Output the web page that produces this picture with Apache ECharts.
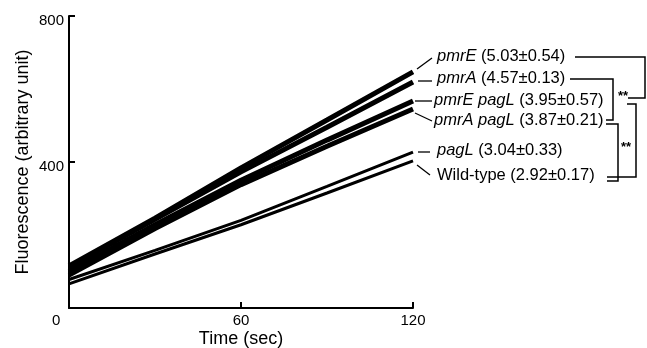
<!DOCTYPE html>
<html>
<head>
<meta charset="utf-8">
<script src="https://cdn.jsdelivr.net/npm/echarts@6/dist/echarts.min.js"></script>
<style>html,body{margin:0;padding:0;background:#fff}#c{width:647px;height:348px}</style>
</head>
<body>
<div id="c"></div>
<script>
var times = [0, 30, 60, 90, 120];
var pmrE = [115, 246, 384, 515, 647];
var pmrA = [112, 243, 373, 495, 619];
var pmrEpagL = [100, 228, 350, 460, 567];
var pmrApagL = [90, 218, 338, 443, 545];
var pagL = [78, 158, 240, 333, 427];
var wildType = [66, 148, 228, 315, 403];
var yTicks = [0, 400, 800];
var xTicks = [0, 60, 120];
var seriesNames = ['pmrE', 'pmrA', 'pmrE pagL', 'pmrA pagL', 'pagL', 'Wild-type'];
var rates = ['5.03±0.54', '4.57±0.13', '3.95±0.57', '3.87±0.21', '3.04±0.33', '2.92±0.17'];

var FONT = '"Liberation Sans", Arial, Helvetica, sans-serif';
function pairs(v) { return times.map(function (t, i) { return [t, v[i]]; }); }
var allSeries = [pmrE, pmrA, pmrEpagL, pmrApagL, pagL, wildType];
var widths = [5, 5, 5, 5, 3, 3];

var labelPos = [[437, 58], [437, 80], [434, 102], [434, 122], [437, 152], [437, 177]];
var leaders = [
  [[417, 69], [432, 58]],
  [[418, 81], [432, 81]],
  [[415, 101], [432, 101]],
  [[415, 113], [432, 121]],
  [[418, 152], [430, 152]],
  [[417, 165], [430, 175]]
];
var brackets = [
  [[575, 57], [645, 57], [645, 98], [628, 98]],
  [[570, 79], [613, 79], [613, 120], [606, 120]],
  [[627, 104], [636, 104], [636, 177], [607, 177]],
  [[606, 124], [618, 124], [618, 181], [607, 181]]
];

var graphics = [];
seriesNames.forEach(function (n, i) {
  var italic = n === 'Wild-type' ? '{n|' + n + '}' : '{i|' + n + '}';
  graphics.push({
    type: 'text', left: labelPos[i][0], top: labelPos[i][1] - 10,
    style: {
      text: italic + '{n| (' + rates[i] + ')}',
      rich: {
        i: { fontStyle: 'italic', fontSize: 16.5, fontFamily: FONT, fill: '#000' },
        n: { fontSize: 16.5, fontFamily: FONT, fill: '#000' }
      }
    }
  });
  graphics.push({ type: 'polyline', shape: { points: leaders[i] }, style: { stroke: '#000', lineWidth: 1.3, fill: null } });
});
brackets.forEach(function (b) {
  graphics.push({ type: 'polyline', shape: { points: b }, style: { stroke: '#000', lineWidth: 1.5, fill: null } });
});
graphics.push({ type: 'text', left: 618, top: 90, style: { text: '**', fontSize: 13, fontWeight: 'bold', fontFamily: FONT, fill: '#000' } });
graphics.push({ type: 'text', left: 621, top: 141, style: { text: '**', fontSize: 13, fontWeight: 'bold', fontFamily: FONT, fill: '#000' } });
graphics.push({ type: 'text', left: 52, top: 313, style: { text: '0', fontSize: 15, fontFamily: FONT, fill: '#000' } });

var chart = echarts.init(document.getElementById('c'), null, { renderer: 'canvas' });
chart.setOption({
  animation: false,
  backgroundColor: '#fff',
  grid: { left: 69, right: 234, top: 16, bottom: 40, containLabel: false, outerBoundsMode: 'none' },
  xAxis: {
    type: 'value', min: xTicks[0], max: xTicks[2], interval: 60,
    name: 'Time (sec)', nameLocation: 'middle', nameGap: 22, nameMoveOverlap: false,
    nameTextStyle: { fontSize: 18, fontFamily: FONT, color: '#000' },
    axisLine: { lineStyle: { color: '#000', width: 2 } },
    axisTick: { inside: true, length: 6, lineStyle: { color: '#000', width: 2 },
      customValues: [60, 120] },
    axisLabel: { fontSize: 15, fontFamily: FONT, color: '#000', margin: 5,
      formatter: function (v) { return v === 0 ? '' : String(v); } },
    splitLine: { show: false }
  },
  yAxis: {
    type: 'value', min: yTicks[0], max: yTicks[2], interval: 400,
    name: 'Fluorescence (arbitrary unit)', nameLocation: 'middle', nameGap: 37, nameMoveOverlap: false,
    nameTextStyle: { fontSize: 18, fontFamily: FONT, color: '#000' },
    axisLine: { show: true, lineStyle: { color: '#000', width: 2 } },
    axisTick: { show: true, inside: true, length: 6, lineStyle: { color: '#000', width: 2 },
      customValues: [400, 800] },
    axisLabel: { fontSize: 15, fontFamily: FONT, color: '#000', margin: 5,
      verticalAlign: 'top', lineHeight: 10,
      formatter: function (v) { return v === 0 ? '' : String(v); } },
    splitLine: { show: false }
  },
  series: allSeries.map(function (s, i) {
    return {
      type: 'line', name: seriesNames[i], data: pairs(s), showSymbol: false,
      lineStyle: { color: '#000', width: widths[i] }, silent: true
    };
  }),
  graphic: graphics
});
</script>
</body>
</html>
